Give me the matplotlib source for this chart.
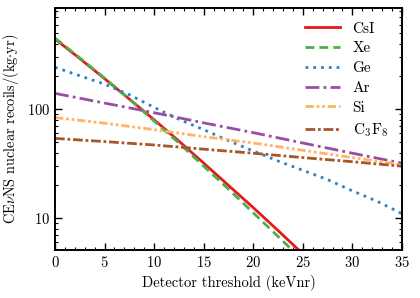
import matplotlib
matplotlib.use("Agg")
import matplotlib.pyplot as plt
from matplotlib.ticker import FixedLocator, ScalarFormatter, MultipleLocator

plt.rcParams['font.family'] = 'serif'
plt.rcParams['font.serif'] = ['cmr10']
plt.rcParams['mathtext.fontset'] = 'cm'
plt.rcParams['axes.formatter.use_mathtext'] = True

# threshold grid (keVnr)
x_fast = [0, 2.5, 5, 7.5, 10, 12.5, 15, 17.5, 20, 22.5, 25]
x_full = [0, 2.5, 5, 7.5, 10, 12.5, 15, 17.5, 20, 22.5, 25, 27.5, 30, 32.5, 35]
x_slow = [0, 5, 10, 15, 20, 25, 30, 35]

# counts per kg.yr
csi = [442, 292, 191, 124, 80, 51, 32, 20, 12.5, 7.7, 4.7]
xe = [450, 296, 193, 124, 78, 49, 30, 18.5, 11.2, 6.8, 4.1]
ge = [243, 203, 170, 136, 104, 81, 65, 51.5, 41.4, 33.5, 27.5, 22.6, 17.8, 14.3, 11]
ar = [140, 114, 93, 75, 61, 49, 39.5, 32]
si = [84, 74.5, 65, 56, 49, 42, 36, 31]
c3f8 = [54, 50.5, 47, 43, 39.5, 36, 33, 30]

fig = plt.figure(figsize=(4.2, 2.98), dpi=100)
ax = fig.add_axes([0.131, 0.161, 0.826, 0.812])

lw = 2.0
ax.plot(x_fast, csi, color='#e41a1c', lw=lw, ls='-', label='CsI')
ax.plot(x_fast, xe, color='#4daf4a', lw=lw, ls=(0, (3.2, 1.8)), label='Xe')
ax.plot(x_full, ge, color='#2a84c4', lw=lw, ls=(0, (1, 1.8)), label='Ge')
ax.plot(x_slow, ar, color='#984ea3', lw=lw, ls=(0, (5, 1.5, 1, 1.5)), label='Ar')
ax.plot(x_slow, si, color='#ffb366', lw=lw, ls=(0, (3, 1, 1, 1, 1, 1)), label='Si')
ax.plot(x_slow, c3f8, color='#a65628', lw=lw, ls=(0, (3.5, 1, 1, 1)), label='C$_3$F$_8$')

ax.set_yscale('log')
ax.set_xlim(0, 35)
ax.set_ylim(5.1, 850)
ax.yaxis.set_major_locator(FixedLocator([10, 100]))
ax.yaxis.set_major_formatter(ScalarFormatter())
ax.xaxis.set_major_locator(MultipleLocator(5))
ax.xaxis.set_minor_locator(MultipleLocator(1))

ax.tick_params(which='both', direction='in', top=True, right=True, labelsize=10.5)
ax.tick_params(which='major', length=5, width=1)
ax.tick_params(which='minor', length=2.5, width=0.8)
for s in ax.spines.values():
    s.set_linewidth(1.4)

ax.set_xlabel('Detector threshold (keVnr)', fontsize=10.5)
ax.set_ylabel(r'CE$\nu$NS nuclear recoils/(kg$\cdot$yr)', fontsize=10.3)

ax.legend(loc='upper right', frameon=False, fontsize=11, handlelength=2.3,
          labelspacing=0.4, borderaxespad=0.5, handletextpad=0.8)

fig.savefig('out.png', dpi=100)
